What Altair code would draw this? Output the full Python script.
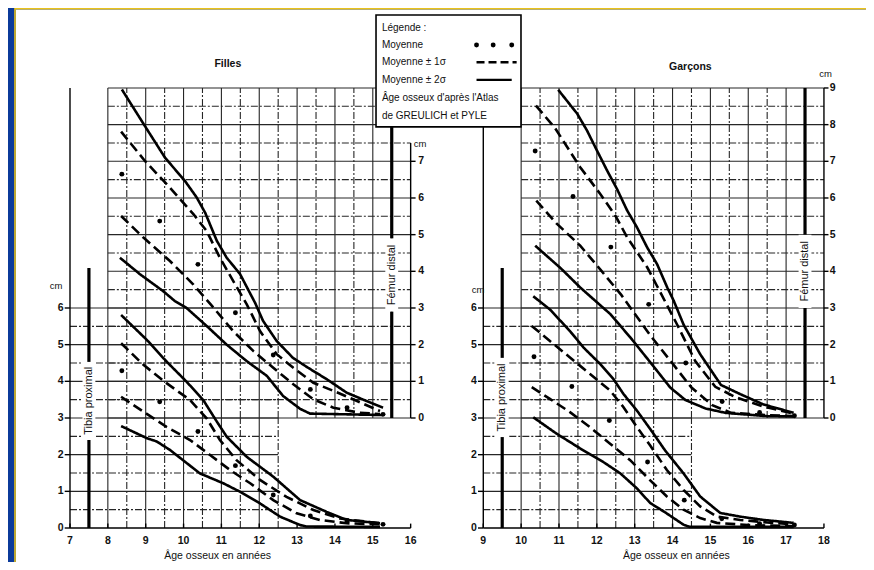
import altair as alt
import pandas as pd

# ---------------- canvas / scales (data units) ----------------
W, H = 858, 554
X_DOM = [5.362, 28.03]      # shared x: left-panel years
Y_DOM = [-0.927, 14.181]    # shared y: tibia cm
OFF = 8.919                 # Garçons year -> shared x
FEM = 3.0                   # fémur 0 cm == tibia 3 cm
FONT = "Liberation Sans"

# ---------------- data ----------------
# Filles - Fémur distal
f_fem_p2_age = [8.37, 8.98, 9.51, 10.04, 10.35, 10.57, 10.88, 11.14, 11.49, 11.89, 12.10, 12.46, 12.89, 13.29, 13.78, 14.31, 14.84, 15.27]
f_fem_p2_cm = [8.96, 7.96, 7.10, 6.46, 6.01, 5.60, 4.83, 4.37, 3.93, 3.14, 2.65, 2.10, 1.64, 1.37, 1.06, 0.69, 0.46, 0.28]
f_fem_p1_age = [8.35, 8.98, 9.64, 10.26, 10.61, 10.96, 11.31, 11.67, 12.02, 12.46, 12.90, 13.43, 13.96, 14.48, 15.19]
f_fem_p1_cm = [7.81, 7.01, 6.28, 5.56, 5.10, 4.37, 3.74, 3.10, 2.37, 1.74, 1.37, 0.96, 0.74, 0.51, 0.19]
f_fem_mean_age = [8.37, 9.37, 10.38, 11.37, 12.37, 13.35, 14.32, 15.27]
f_fem_mean_cm = [6.65, 5.37, 4.19, 2.87, 1.72, 0.78, 0.28, 0.10]
f_fem_m1_age = [8.35, 8.94, 9.64, 10.26, 10.79, 11.31, 11.84, 12.37, 12.90, 13.43, 13.96, 14.66, 15.19]
f_fem_m1_cm = [5.51, 4.92, 4.28, 3.64, 3.01, 2.37, 1.83, 1.37, 0.92, 0.51, 0.28, 0.14, 0.11]
f_fem_m2_age = [8.32, 8.85, 9.46, 9.77, 10.08, 10.61, 11.14, 11.67, 12.20, 12.63, 13.08, 13.34, 15.27]
f_fem_m2_cm = [4.37, 3.92, 3.46, 3.19, 3.00, 2.51, 2.00, 1.55, 1.15, 0.60, 0.25, 0.12, 0.08]

# Filles - Tibia proximal
f_tib_p2_age = [8.35, 9.03, 9.55, 10.08, 10.52, 10.88, 11.14, 11.67, 12.37, 13.08, 13.78, 14.31, 15.19]
f_tib_p2_cm = [5.81, 5.13, 4.54, 3.99, 3.49, 2.90, 2.49, 1.94, 1.40, 0.76, 0.44, 0.22, 0.13]
f_tib_p1_age = [8.35, 8.94, 9.55, 10.17, 10.61, 10.96, 11.40, 12.02, 12.72, 13.43, 14.13, 15.19]
f_tib_p1_cm = [5.04, 4.45, 3.95, 3.49, 2.99, 2.40, 1.85, 1.31, 0.85, 0.49, 0.26, 0.13]
f_tib_mean_age = [8.37, 9.37, 10.38, 11.37, 12.37, 13.35, 14.32, 15.27]
f_tib_mean_cm = [4.29, 3.44, 2.63, 1.70, 0.90, 0.33, 0.18, 0.10]
f_tib_m1_age = [8.35, 8.94, 9.55, 10.17, 10.70, 11.23, 11.76, 12.37, 12.99, 13.60, 14.31, 15.19]
f_tib_m1_cm = [3.58, 3.17, 2.76, 2.40, 1.99, 1.58, 1.22, 0.76, 0.40, 0.22, 0.13, 0.10]
f_tib_m2_age = [8.35, 9.03, 9.29, 9.64, 10.43, 11.05, 11.49, 12.02, 12.55, 13.08, 13.25, 15.19]
f_tib_m2_cm = [2.78, 2.45, 2.36, 2.13, 1.49, 1.22, 0.99, 0.67, 0.31, 0.08, 0.04, 0.03]

# Garçons - Fémur distal
g_fem_p2_age = [10.98, 11.48, 11.74, 12.00, 12.27, 12.53, 12.80, 13.06, 13.33, 13.59, 13.86, 14.03, 14.29, 14.73, 15.28, 15.79, 16.40, 17.20]
g_fem_p2_cm = [8.95, 8.30, 7.84, 7.30, 6.75, 6.25, 5.66, 5.20, 4.65, 4.20, 3.56, 3.20, 2.55, 1.74, 0.90, 0.65, 0.37, 0.14]
g_fem_p1_age = [10.39, 10.90, 11.39, 11.56, 12.09, 12.50, 12.80, 13.33, 13.59, 14.12, 14.60, 15.13, 15.66, 16.37, 17.20]
g_fem_p1_cm = [8.52, 7.90, 7.11, 6.84, 6.11, 5.50, 4.93, 4.11, 3.60, 2.55, 1.55, 0.85, 0.57, 0.32, 0.12]
g_fem_mean_age = [10.37, 11.37, 12.37, 13.37, 14.35, 15.31, 16.30, 17.22]
g_fem_mean_cm = [7.28, 6.04, 4.66, 3.10, 1.50, 0.45, 0.15, 0.06]
g_fem_m1_age = [10.40, 10.94, 11.56, 12.10, 12.65, 13.42, 13.95, 14.50, 15.05, 15.55, 16.50, 17.20]
g_fem_m1_cm = [5.93, 5.30, 4.70, 4.04, 3.35, 2.24, 1.55, 0.83, 0.35, 0.14, 0.08, 0.05]
g_fem_m2_age = [10.37, 11.05, 11.56, 12.36, 12.89, 13.45, 13.94, 14.34, 14.87, 15.40, 16.50, 17.20]
g_fem_m2_cm = [4.70, 4.08, 3.56, 2.83, 2.19, 1.47, 0.83, 0.49, 0.26, 0.14, 0.05, 0.04]

# Garçons - Tibia proximal
g_tib_p2_age = [10.32, 10.76, 11.29, 11.65, 12.09, 12.44, 12.70, 13.06, 13.41, 13.80, 14.29, 14.73, 15.26, 15.79, 16.40, 17.20]
g_tib_p2_cm = [6.32, 5.96, 5.37, 4.92, 4.47, 4.06, 3.66, 3.20, 2.70, 2.12, 1.49, 0.86, 0.41, 0.31, 0.22, 0.14]
g_tib_p1_age = [10.28, 10.76, 11.29, 11.82, 12.35, 12.70, 13.06, 13.41, 13.85, 14.29, 14.73, 15.17, 15.79, 16.50, 17.20]
g_tib_p1_cm = [5.51, 5.10, 4.65, 4.20, 3.75, 3.30, 2.75, 2.25, 1.58, 1.04, 0.59, 0.31, 0.22, 0.15, 0.10]
g_tib_mean_age = [10.34, 11.34, 12.33, 13.34, 14.31, 15.30, 16.30, 17.22]
g_tib_mean_cm = [4.67, 3.86, 2.93, 1.80, 0.76, 0.25, 0.12, 0.08]
g_tib_m1_age = [10.28, 10.76, 11.29, 11.82, 12.35, 12.88, 13.41, 13.85, 14.29, 14.73, 15.17, 16.00, 17.20]
g_tib_m1_cm = [3.84, 3.52, 3.16, 2.75, 2.30, 1.85, 1.30, 0.86, 0.50, 0.27, 0.14, 0.08, 0.05]
g_tib_m2_age = [10.32, 10.94, 11.56, 12.17, 12.62, 13.06, 13.41, 13.80, 14.29, 14.45, 17.20]
g_tib_m2_cm = [3.02, 2.57, 2.17, 1.80, 1.49, 1.08, 0.68, 0.43, 0.09, 0.03, 0.03]

# tick labels
f_x_ticks = [7, 8, 9, 10, 11, 12, 13, 14, 15, 16]
g_x_ticks = [9, 10, 11, 12, 13, 14, 15, 16, 17, 18]
tib_ticks = [0, 1, 2, 3, 4, 5, 6]
f_fem_ticks = [0, 1, 2, 3, 4, 5, 6, 7]
g_fem_ticks = [0, 1, 2, 3, 4, 5, 6, 7, 8, 9]

legend_lines = ["Légende :", "Moyenne", "Moyenne ± 1σ", "Moyenne ± 2σ",
                "Âge osseux d'après l'Atlas", "de GREULICH et PYLE"]

# ---------------- build tables ----------------
def rows(name, ages, cms, style, panel, bone):
    xo = OFF if panel == "g" else 0.0
    yo = FEM if bone == "fem" else 0.0
    return [dict(curve=name, i=i, x=a + xo, y=c + yo, style=style)
            for i, (a, c) in enumerate(zip(ages, cms))]

line_rows = []
dot_rows = []
for panel, bone, p2a, p2c, p1a, p1c, ma, mc, m1a, m1c, m2a, m2c in [
    ("f", "fem", f_fem_p2_age, f_fem_p2_cm, f_fem_p1_age, f_fem_p1_cm, f_fem_mean_age, f_fem_mean_cm, f_fem_m1_age, f_fem_m1_cm, f_fem_m2_age, f_fem_m2_cm),
    ("f", "tib", f_tib_p2_age, f_tib_p2_cm, f_tib_p1_age, f_tib_p1_cm, f_tib_mean_age, f_tib_mean_cm, f_tib_m1_age, f_tib_m1_cm, f_tib_m2_age, f_tib_m2_cm),
    ("g", "fem", g_fem_p2_age, g_fem_p2_cm, g_fem_p1_age, g_fem_p1_cm, g_fem_mean_age, g_fem_mean_cm, g_fem_m1_age, g_fem_m1_cm, g_fem_m2_age, g_fem_m2_cm),
    ("g", "tib", g_tib_p2_age, g_tib_p2_cm, g_tib_p1_age, g_tib_p1_cm, g_tib_mean_age, g_tib_mean_cm, g_tib_m1_age, g_tib_m1_cm, g_tib_m2_age, g_tib_m2_cm),
]:
    tag = panel + bone
    line_rows += rows(tag + "p2", p2a, p2c, "2s", panel, bone)
    line_rows += rows(tag + "p1", p1a, p1c, "1s", panel, bone)
    line_rows += rows(tag + "m1", m1a, m1c, "1s", panel, bone)
    line_rows += rows(tag + "m2", m2a, m2c, "2s", panel, bone)
    dot_rows += rows(tag + "mean", ma, mc, "mean", panel, bone)

curves = pd.DataFrame(line_rows)
dots = pd.DataFrame(dot_rows)

# grid lines
def half_steps(a, b):
    n = int(round((b - a) * 2))
    return [a + 0.5 * k for k in range(n + 1)]

grid = []
def vline(x, y0, y1, v):
    grid.append(dict(x=x, x2=x, y=y0, y2=y1, kind="solid" if float(v).is_integer() else "dash"))
def hline(y, x0, x1, v):
    grid.append(dict(x=x0, x2=x1, y=y, y2=y, kind="solid" if float(v).is_integer() else "dash"))

for off, t0, fem0 in [(0.0, 7, 8), (OFF, 9, 10)]:
    # fémur grid (fem0 .. fem0+8 years, 0..9 cm)
    for yr in half_steps(fem0, fem0 + 7.5):
        vline(yr + off, FEM, FEM + 9, yr)
    for c in half_steps(0, 9):
        hline(c + FEM, fem0 + off, fem0 + 8 + off, c)
    # tibia grid (t0 .. t0+5.5 years, 0..6 cm)
    for yr in half_steps(t0 + 0.5, t0 + 5.5):
        vline(yr + off, 0, FEM, yr)
    for c in half_steps(0.5, 6):
        hline(c, t0 + off, t0 + 5.5 + off, c)
grid = pd.DataFrame(grid)

# axis lines, ticks, bars
axes = pd.DataFrame([
    dict(x=7, x2=7, y=0, y2=12),                 # tibia axis (Filles)
    dict(x=7, x2=16, y=0, y2=0),                 # age axis (Filles)
    dict(x=16, x2=16, y=FEM, y2=FEM + 7.5),      # fémur axis (Filles)
    dict(x=9 + OFF, x2=9 + OFF, y=0, y2=12),     # tibia axis (Garçons)
    dict(x=9 + OFF, x2=18 + OFF, y=0, y2=0),     # age axis (Garçons)
    dict(x=18 + OFF, x2=18 + OFF, y=FEM, y2=FEM + 9),
])
ticks = pd.DataFrame(
    [dict(x=6.86, x2=7, y=v, y2=v) for v in tib_ticks]
    + [dict(x=8.86 + OFF, x2=9 + OFF, y=v, y2=v) for v in tib_ticks]
    + [dict(x=16, x2=16.13, y=v + FEM, y2=v + FEM) for v in f_fem_ticks]
    + [dict(x=18 + OFF, x2=18.12 + OFF, y=v + FEM, y2=v + FEM) for v in g_fem_ticks]
    + [dict(x=v, x2=v, y=0, y2=0.12) for v in f_x_ticks]
    + [dict(x=v + OFF, x2=v + OFF, y=0, y2=0.12) for v in g_x_ticks]
)
bars = pd.DataFrame([
    dict(x=7.5, y=0, y2=2.4), dict(x=7.5, y=4.53, y2=7.09),
    dict(x=9.5 + OFF, y=0, y2=2.48), dict(x=9.5 + OFF, y=4.64, y2=7.09),
    dict(x=15.5, y=FEM, y2=FEM + 2.9), dict(x=15.5, y=FEM + 4.9, y2=12),
    dict(x=17.5 + OFF, y=FEM, y2=FEM + 3.0), dict(x=17.5 + OFF, y=FEM + 5.0, y2=12),
])
# white gaps behind the rotated bar captions
gaps = pd.DataFrame([
    dict(x=7.33, x2=7.67, y=2.4, y2=4.53),
    dict(x=9.33 + OFF, x2=9.67 + OFF, y=2.48, y2=4.64),
    dict(x=15.33, x2=15.67, y=FEM + 2.9, y2=FEM + 4.9),
    dict(x=17.33 + OFF, x2=17.67 + OFF, y=FEM + 3.0, y2=FEM + 5.0),
])

# ---------------- encodings ----------------
xs = alt.Scale(domain=X_DOM, nice=False, zero=False)
ys = alt.Scale(domain=Y_DOM, nice=False, zero=False)
X = lambda f="x": alt.X(f + ":Q", scale=xs, axis=None)
Y = lambda f="y": alt.Y(f + ":Q", scale=ys, axis=None)
one = pd.DataFrame({"a": [0]})

frame_white = alt.Chart(one).mark_rect(fill="white").encode(
    x=alt.value(8), x2=alt.value(W), y=alt.value(1.5), y2=alt.value(H))
frame_v = alt.Chart(one).mark_rule(color="#e9c21a", strokeWidth=1.6).encode(
    x=alt.value(7), y=alt.value(0), y2=alt.value(H))
frame_h = alt.Chart(one).mark_rule(color="#e9c21a", strokeWidth=1.6).encode(
    x=alt.value(7), x2=alt.value(W), y=alt.value(0.8))

grid_layer = alt.Chart(grid).mark_rule(color="#262626", strokeWidth=1.1).encode(
    x=X(), x2="x2:Q", y=Y(), y2="y2:Q",
    strokeDash=alt.StrokeDash("kind:N", scale=alt.Scale(domain=["solid", "dash"], range=[[1, 0], [7, 2, 2, 2]]), legend=None),
)
gap_layer = alt.Chart(gaps).mark_rect(fill="white").encode(x=X(), x2="x2:Q", y=Y(), y2="y2:Q")
axes_layer = alt.Chart(axes).mark_rule(color="black", strokeWidth=1.4).encode(
    x=X(), x2="x2:Q", y=Y(), y2="y2:Q")
ticks_layer = alt.Chart(ticks).mark_rule(color="black", strokeWidth=1.4).encode(
    x=X(), x2="x2:Q", y=Y(), y2="y2:Q")
bars_layer = alt.Chart(bars).mark_rule(color="black", strokeWidth=3.2).encode(
    x=X(), y=Y(), y2="y2:Q")

curve_layer = alt.Chart(curves).mark_line(color="black", strokeWidth=2.6).encode(
    x=X(), y=Y(), detail="curve:N", order="i:Q",
    strokeDash=alt.StrokeDash("style:N", scale=alt.Scale(domain=["2s", "1s"], range=[[1, 0], [10, 5]]), legend=None),
)
dot_layer = alt.Chart(dots).mark_circle(color="black", size=24, opacity=1).encode(x=X(), y=Y())

def text_layer(df, **kw):
    base = dict(font=FONT, color="#111")
    base.update(kw)
    return alt.Chart(pd.DataFrame(df)).mark_text(**base).encode(x=X(), y=Y(), text="t:N")

labels = [
    text_layer([dict(x=v, y=-0.36, t=str(v)) for v in f_x_ticks]
               + [dict(x=v + OFF, y=-0.36, t=str(v)) for v in g_x_ticks],
               fontSize=10.5, fontWeight="bold", align="center", baseline="middle"),
    text_layer([dict(x=6.83, y=v, t=str(v)) for v in tib_ticks]
               + [dict(x=8.83 + OFF, y=v, t=str(v)) for v in tib_ticks],
               fontSize=10.5, fontWeight="bold", align="right", baseline="middle"),
    text_layer([dict(x=16.2, y=v + FEM, t=str(v)) for v in f_fem_ticks]
               + [dict(x=18.15 + OFF, y=v + FEM, t=str(v)) for v in g_fem_ticks],
               fontSize=10.5, fontWeight="bold", align="left", baseline="middle"),
    text_layer([dict(x=6.63, y=6.6, t="cm"), dict(x=8.86 + OFF, y=6.5, t="cm"),
                dict(x=16.25, y=10.47, t="cm"), dict(x=18.04 + OFF, y=12.38, t="cm")],
               fontSize=9.5, align="center", baseline="middle"),
    text_layer([dict(x=10.9, y=-0.77, t="Âge osseux en années"),
                dict(x=14.1 + OFF, y=-0.77, t="Âge osseux en années")],
               fontSize=10.5, align="center", baseline="middle"),
    text_layer([dict(x=11.17, y=12.66, t="Filles"), dict(x=14.47 + OFF, y=12.58, t="Garçons")],
               fontSize=10.5, fontWeight="bold", align="center", baseline="middle"),
    text_layer([dict(x=7.5, y=3.47, t="Tibia proximal"), dict(x=9.5 + OFF, y=3.56, t="Tibia proximal")],
               fontSize=11, angle=270, align="center", baseline="middle"),
    text_layer([dict(x=15.5, y=FEM + 3.9, t="Fémur distal"), dict(x=17.5 + OFF, y=FEM + 4.0, t="Fémur distal")],
               fontSize=11, angle=270, align="center", baseline="middle"),
]

# legend box (drawn in data units, top-centre)
LEG = dict(x=15.085, x2=18.915, y=10.94, y2=13.99)
leg_rows_y = [13.64, 13.17, 12.70, 12.22, 11.73, 11.24]
leg_box = alt.Chart(pd.DataFrame([LEG])).mark_rect(fill="white", stroke="black", strokeWidth=1.6).encode(
    x=X(), x2="x2:Q", y=Y(), y2="y2:Q")
leg_text = text_layer([dict(x=15.24, y=yy, t=s) for yy, s in zip(leg_rows_y, legend_lines)],
                      fontSize=10, align="left", baseline="middle")
leg_dots = alt.Chart(pd.DataFrame([dict(x=v, y=leg_rows_y[1]) for v in [17.74, 18.18, 18.67]])).mark_circle(
    color="black", size=24, opacity=1).encode(x=X(), y=Y())
leg_lines = alt.Chart(pd.DataFrame([
    dict(x=17.74, x2=18.80, y=leg_rows_y[2], y2=leg_rows_y[2], style="1s"),
    dict(x=17.74, x2=18.67, y=leg_rows_y[3], y2=leg_rows_y[3], style="2s"),
])).mark_rule(color="black", strokeWidth=2.4).encode(
    x=X(), x2="x2:Q", y=Y(), y2="y2:Q",
    strokeDash=alt.StrokeDash("style:N", scale=alt.Scale(domain=["2s", "1s"], range=[[1, 0], [8, 4]]), legend=None),
)

chart = alt.layer(
    frame_white, frame_v, frame_h,
    grid_layer, gap_layer, axes_layer, ticks_layer, bars_layer,
    curve_layer, dot_layer,
    *labels,
    leg_box, leg_text, leg_dots, leg_lines,
).properties(
    width=W, height=H, padding=0,
    autosize=alt.AutoSizeParams(type="none"),
).configure(background="#0b3a9a").configure_view(stroke=None).resolve_scale(strokeDash="independent")

chart.save("out.html", embed_options={"renderer": "svg", "actions": False})
